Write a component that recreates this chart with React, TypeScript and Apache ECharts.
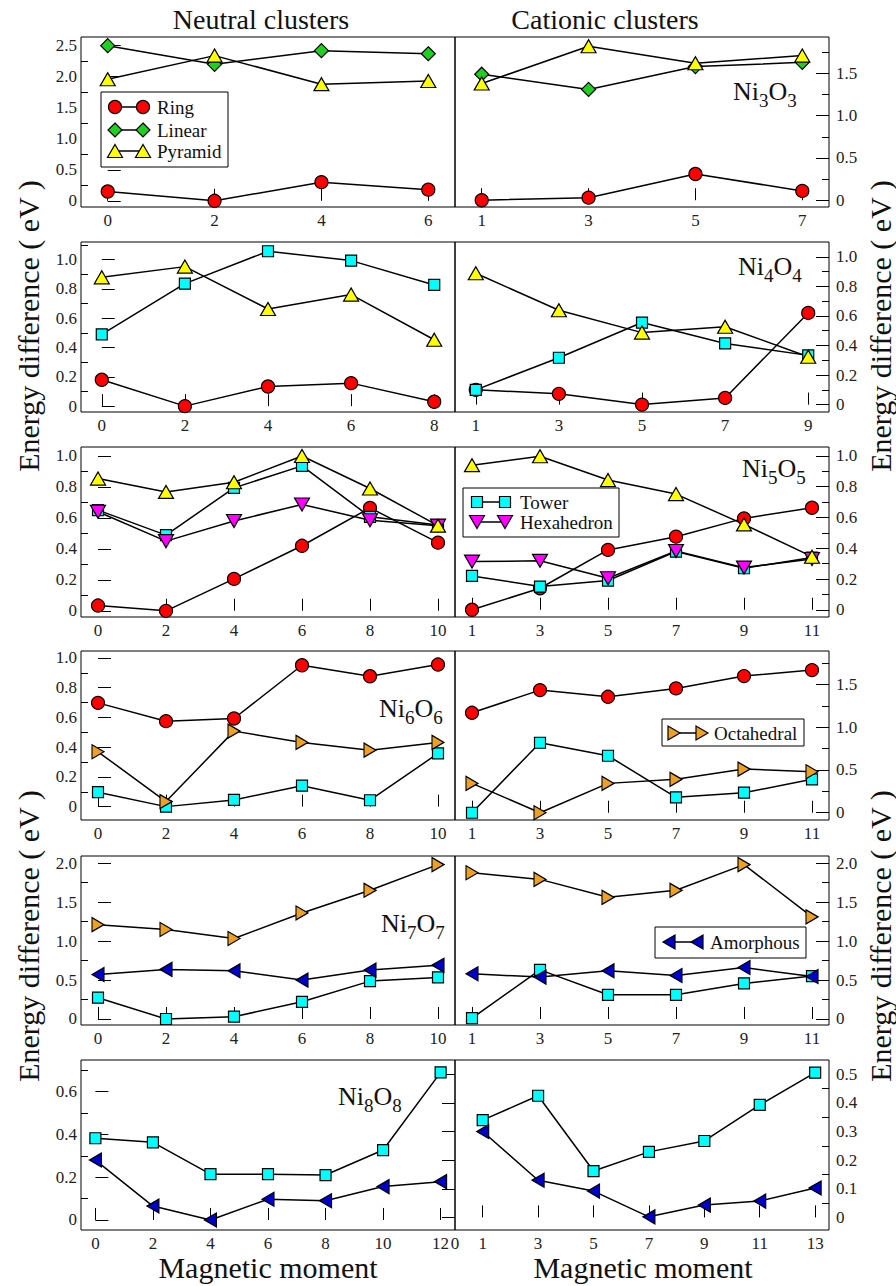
import React, { useEffect, useRef } from "react";
import * as echarts from "echarts";

const FONT = "'Liberation Serif', 'Times New Roman', Times, serif";

// ---------------- x values (magnetic moment) ----------------
const xNeutral6 = [0, 2, 4, 6];
const xCation7 = [1, 3, 5, 7];
const xNeutral8 = [0, 2, 4, 6, 8];
const xCation9 = [1, 3, 5, 7, 9];
const xNeutral10 = [0, 2, 4, 6, 8, 10];
const xCation11 = [1, 3, 5, 7, 9, 11];
const xNeutral12 = [0, 2, 4, 6, 8, 10, 12];
const xCation13 = [1, 3, 5, 7, 9, 11, 13];
const xCation13Labels = [0, 1, 3, 5, 7, 9, 11, 13];

// ---------------- Ni3O3 ----------------
const ni3nRing = [0.15, 0, 0.3, 0.18];
const ni3nLinear = [2.5, 2.2, 2.42, 2.37];
const ni3nPyramid = [1.96, 2.34, 1.88, 1.93];
const ni3cRing = [0, 0.03, 0.31, 0.11];
const ni3cLinear = [1.49, 1.31, 1.58, 1.63];
const ni3cPyramid = [1.38, 1.82, 1.62, 1.71];

// ---------------- Ni4O4 ----------------
const ni4nRing = [0.18, 0, 0.134, 0.157, 0.03];
const ni4nTower = [0.49, 0.836, 1.057, 0.993, 0.827];
const ni4nPyramid = [0.879, 0.952, 0.663, 0.761, 0.453];
const ni4cRing = [0.1, 0.073, 0, 0.045, 0.62];
const ni4cTower = [0.1, 0.317, 0.555, 0.414, 0.333];
const ni4cPyramid = [0.889, 0.638, 0.487, 0.527, 0.324];

// ---------------- Ni5O5 ----------------
const ni5nRing = [0.034, 0, 0.206, 0.42, 0.665, 0.44];
const ni5nTower = [0.65, 0.489, 0.794, 0.936, 0.607, 0.554];
const ni5nHexahedron = [0.64, 0.45, 0.58, 0.687, 0.585, 0.55];
const ni5nPyramid = [0.854, 0.768, 0.83, 1.0, 0.79, 0.55];
const ni5cRing = [0, 0.14, 0.389, 0.475, 0.594, 0.663];
const ni5cTower = [0.22, 0.151, 0.19, 0.378, 0.27, 0.339];
const ni5cHexahedron = [0.313, 0.318, 0.205, 0.382, 0.274, 0.33];
const ni5cPyramid = [0.94, 0.998, 0.843, 0.752, 0.555, 0.345];

// ---------------- Ni6O6 ----------------
const ni6nRing = [0.698, 0.575, 0.593, 0.951, 0.877, 0.956];
const ni6nTower = [0.097, 0, 0.045, 0.141, 0.043, 0.358];
const ni6nOctahedral = [0.369, 0.034, 0.508, 0.432, 0.38, 0.432];
const ni6cRing = [1.168, 1.433, 1.355, 1.453, 1.597, 1.667];
const ni6cTower = [0, 0.818, 0.666, 0.18, 0.234, 0.39];
const ni6cOctahedral = [0.343, 0, 0.343, 0.39, 0.51, 0.479];

// ---------------- Ni7O7 ----------------
const ni7nTower = [0.273, 0, 0.03, 0.22, 0.486, 0.533];
const ni7nOctahedral = [1.21, 1.148, 1.032, 1.36, 1.65, 1.98];
const ni7nAmorphous = [0.571, 0.636, 0.618, 0.499, 0.627, 0.69];
const ni7cTower = [0.01, 0.63, 0.31, 0.31, 0.456, 0.55];
const ni7cOctahedral = [1.875, 1.79, 1.56, 1.65, 1.98, 1.31];
const ni7cAmorphous = [0.58, 0.537, 0.618, 0.558, 0.66, 0.545];

// ---------------- Ni8O8 ----------------
const ni8nTower = [0.382, 0.363, 0.214, 0.214, 0.21, 0.327, 0.69];
const ni8nAmorphous = [0.28, 0.065, 0, 0.097, 0.09, 0.156, 0.179];
const ni8cTower = [0.34, 0.425, 0.162, 0.229, 0.267, 0.393, 0.506];
const ni8cAmorphous = [0.3, 0.13, 0.092, 0.002, 0.043, 0.057, 0.103];

// ---------------- y tick labels ----------------
const yLab25 = [0, 0.5, 1, 1.5, 2, 2.5];
const yMin25 = [0.25, 0.75, 1.25, 1.75, 2.25];
const yLab15 = [0, 0.5, 1, 1.5];
const yMin15 = [0.25, 0.75, 1.25, 1.75];
const yLab10 = [0, 0.2, 0.4, 0.6, 0.8, 1.0];
const yMin10 = [0.1, 0.3, 0.5, 0.7, 0.9];
const yMin11 = [0.1, 0.3, 0.5, 0.7, 0.9, 1.1];
const yLab20 = [0, 0.5, 1, 1.5, 2];
const yMin20 = [0.25, 0.75, 1.25, 1.75];
const yLab06 = [0, 0.2, 0.4, 0.6];
const yMin06 = [0.1, 0.3, 0.5, 0.7];
const yLab05 = [0, 0.1, 0.2, 0.3, 0.4, 0.5];
const yMin05 = [0.05, 0.15, 0.25, 0.35, 0.45];

// ---------------- styles ----------------
type Sty = { symbol: string; size: number | number[]; color: string; rotate: number };
const STYLE: Record<string, Sty> = {
  Ring: { symbol: "circle", size: 13, color: "#ff0000", rotate: 0 },
  Linear: { symbol: "diamond", size: 14, color: "#20d020", rotate: 0 },
  Tower: { symbol: "rect", size: 11, color: "#00ffff", rotate: 0 },
  Hexahedron: { symbol: "triangle", size: [15, 13], color: "#ff00ff", rotate: 180 },
  Pyramid: { symbol: "triangle", size: [15, 13], color: "#ffff00", rotate: 0 },
  Octahedral: { symbol: "triangle", size: [14, 12], color: "#eea020", rotate: -90 },
  Amorphous: { symbol: "triangle", size: [14, 12], color: "#0000cc", rotate: 90 },
};
const ORDER = ["Ring", "Linear", "Tower", "Hexahedron", "Pyramid", "Octahedral", "Amorphous"];

const ROW_TOP = [37, 242, 447, 651, 856, 1060];
const ROW_H = [170, 170, 170, 169, 169, 170];
const COL_LEFT = [81, 455];
const PANEL_W = 374;

type Panel = {
  row: number;
  col: number;
  xs: number[];
  xRange: number[];
  xLabels: number[];
  xTicks: number[];
  yRange: number[];
  yLabels: number[];
  yMinor: number[];
  series: Record<string, number[]>;
};

const panels: Panel[] = [
  { row: 0, col: 0, xs: xNeutral6, xRange: [-0.5, 6.5], xLabels: xNeutral6, xTicks: xNeutral6, yRange: [-0.1, 2.64], yLabels: yLab25, yMinor: yMin25,
    series: { Ring: ni3nRing, Linear: ni3nLinear, Pyramid: ni3nPyramid } },
  { row: 0, col: 1, xs: xCation7, xRange: [0.5, 7.5], xLabels: xCation7, xTicks: xCation7, yRange: [-0.08, 1.93], yLabels: yLab15, yMinor: yMin15,
    series: { Ring: ni3cRing, Linear: ni3cLinear, Pyramid: ni3cPyramid } },
  { row: 1, col: 0, xs: xNeutral8, xRange: [-0.5, 8.5], xLabels: xNeutral8, xTicks: xNeutral8, yRange: [-0.04, 1.12], yLabels: yLab10, yMinor: yMin11,
    series: { Ring: ni4nRing, Tower: ni4nTower, Pyramid: ni4nPyramid } },
  { row: 1, col: 1, xs: xCation9, xRange: [0.5, 9.5], xLabels: xCation9, xTicks: xCation9, yRange: [-0.05, 1.1], yLabels: yLab10, yMinor: yMin10,
    series: { Ring: ni4cRing, Tower: ni4cTower, Pyramid: ni4cPyramid } },
  { row: 2, col: 0, xs: xNeutral10, xRange: [-0.5, 10.5], xLabels: xNeutral10, xTicks: xNeutral10, yRange: [-0.04, 1.058], yLabels: yLab10, yMinor: yMin10,
    series: { Ring: ni5nRing, Tower: ni5nTower, Hexahedron: ni5nHexahedron, Pyramid: ni5nPyramid } },
  { row: 2, col: 1, xs: xCation11, xRange: [0.5, 11.5], xLabels: xCation11, xTicks: xCation11, yRange: [-0.047, 1.058], yLabels: yLab10, yMinor: yMin10,
    series: { Ring: ni5cRing, Tower: ni5cTower, Hexahedron: ni5cHexahedron, Pyramid: ni5cPyramid } },
  { row: 3, col: 0, xs: xNeutral10, xRange: [-0.5, 10.5], xLabels: xNeutral10, xTicks: xNeutral10, yRange: [-0.09, 1.047], yLabels: yLab10, yMinor: yMin10,
    series: { Ring: ni6nRing, Tower: ni6nTower, Octahedral: ni6nOctahedral } },
  { row: 3, col: 1, xs: xCation11, xRange: [0.5, 11.5], xLabels: xCation11, xTicks: xCation11, yRange: [-0.085, 1.89], yLabels: yLab15, yMinor: yMin15,
    series: { Ring: ni6cRing, Tower: ni6cTower, Octahedral: ni6cOctahedral } },
  { row: 4, col: 0, xs: xNeutral10, xRange: [-0.5, 10.5], xLabels: xNeutral10, xTicks: xNeutral10, yRange: [-0.077, 2.09], yLabels: yLab20, yMinor: yMin20,
    series: { Tower: ni7nTower, Octahedral: ni7nOctahedral, Amorphous: ni7nAmorphous } },
  { row: 4, col: 1, xs: xCation11, xRange: [0.5, 11.5], xLabels: xCation11, xTicks: xCation11, yRange: [-0.077, 2.09], yLabels: yLab20, yMinor: yMin20,
    series: { Tower: ni7cTower, Octahedral: ni7cOctahedral, Amorphous: ni7cAmorphous } },
  { row: 5, col: 0, xs: xNeutral12, xRange: [-0.5, 12.5], xLabels: xNeutral12, xTicks: xNeutral12, yRange: [-0.047, 0.748], yLabels: yLab06, yMinor: yMin06,
    series: { Tower: ni8nTower, Amorphous: ni8nAmorphous } },
  { row: 5, col: 1, xs: xCation13, xRange: [0, 13.5], xLabels: xCation13Labels, xTicks: xCation13, yRange: [-0.044, 0.55], yLabels: yLab05, yMinor: yMin05,
    series: { Tower: ni8cTower, Amorphous: ni8cAmorphous } },
];

// ---------------- graphic helpers ----------------
function legendSymbol(name: string, cx: number, cy: number): any {
  const s = STYLE[name];
  const style = { fill: s.color, stroke: "#000", lineWidth: 1.2 };
  if (name === "Ring") return { type: "circle", shape: { cx, cy, r: 6.5 }, style };
  if (name === "Tower") return { type: "rect", shape: { x: cx - 5.5, y: cy - 5.5, width: 11, height: 11 }, style };
  if (name === "Linear")
    return { type: "polygon", shape: { points: [[cx, cy - 7], [cx + 7, cy], [cx, cy + 7], [cx - 7, cy]] }, style };
  if (name === "Pyramid")
    return { type: "polygon", shape: { points: [[cx, cy - 6.5], [cx + 7.5, cy + 6.5], [cx - 7.5, cy + 6.5]] }, style };
  if (name === "Hexahedron")
    return { type: "polygon", shape: { points: [[cx, cy + 6.5], [cx + 7.5, cy - 6.5], [cx - 7.5, cy - 6.5]] }, style };
  if (name === "Octahedral")
    return { type: "polygon", shape: { points: [[cx + 6, cy], [cx - 6, cy - 7], [cx - 6, cy + 7]] }, style };
  return { type: "polygon", shape: { points: [[cx - 6, cy], [cx + 6, cy - 7], [cx + 6, cy + 7]] }, style };
}

const legends = [
  { box: [101, 92, 127, 75], sx: [115, 143], tx: 157, items: [["Ring", 107], ["Linear", 130], ["Pyramid", 151]] },
  { box: [463, 488, 156, 49], sx: [477, 505], tx: 520, items: [["Tower", 502], ["Hexahedron", 522]] },
  { box: [662, 719, 142, 27], sx: [674, 702], tx: 714, items: [["Octahedral", 733]] },
  { box: [655, 927, 151, 31], sx: [669, 697], tx: 710, items: [["Amorphous", 942]] },
];

const clusterLabels = [
  { n: "3", x: 733, base: 100 },
  { n: "4", x: 738, base: 275 },
  { n: "5", x: 742, base: 477 },
  { n: "6", x: 379, base: 717 },
  { n: "7", x: 381, base: 932 },
  { n: "8", x: 338, base: 1105 },
];

function text(str: string, x: number, y: number, size: number, align = "center", rotation = 0): any {
  return {
    type: "text",
    x,
    y,
    rotation,
    z: 100,
    style: { text: str, fontFamily: FONT, fontSize: size, fill: "#111", align, verticalAlign: "middle" },
  };
}

function buildOption(): any {
  const grid: any[] = [];
  const xAxis: any[] = [];
  const yAxis: any[] = [];
  const series: any[] = [];
  const labelStyle = { fontFamily: FONT, fontSize: 17, color: "#222" };

  panels.forEach((p, i) => {
    grid.push({
      left: COL_LEFT[p.col],
      top: ROW_TOP[p.row],
      width: PANEL_W,
      height: ROW_H[p.row],
      show: true,
      borderColor: "#000",
      borderWidth: 1,
      backgroundColor: "rgba(0,0,0,0)",
    });
    xAxis.push({
      type: "value",
      gridIndex: i,
      min: p.xRange[0],
      max: p.xRange[1],
      position: "bottom",
      axisLine: { show: false },
      splitLine: { show: false },
      axisTick: { show: true, inside: true, length: 12, lineStyle: { color: "#000", width: 1 }, customValues: p.xTicks },
      axisLabel: { show: true, customValues: p.xLabels, margin: 5, showMinLabel: true, showMaxLabel: true, ...labelStyle },
    });
    const pos = p.col === 0 ? "left" : "right";
    yAxis.push({
      type: "value",
      gridIndex: i,
      min: p.yRange[0],
      max: p.yRange[1],
      position: pos,
      axisLine: { show: false },
      splitLine: { show: false },
      axisTick: { show: true, inside: true, length: 13, lineStyle: { color: "#000", width: 1 }, customValues: p.yLabels },
      axisLabel: {
        show: true,
        customValues: p.yLabels,
        margin: p.col === 0 ? 4 : 7,
        showMinLabel: true,
        showMaxLabel: true,
        formatter: (v: number) => (Math.abs(v) < 1e-9 ? "0" : Number(v).toFixed(1)),
        ...labelStyle,
      },
    });
    yAxis.push({
      type: "value",
      gridIndex: i,
      min: p.yRange[0],
      max: p.yRange[1],
      position: pos,
      axisLine: { show: false },
      splitLine: { show: false },
      axisTick: { show: true, inside: true, length: 7, lineStyle: { color: "#000", width: 1 }, customValues: p.yMinor },
      axisLabel: { show: false },
    });
    ORDER.forEach((name) => {
      const ys = p.series[name];
      if (!ys) return;
      const s = STYLE[name];
      series.push({
        type: "line",
        name,
        xAxisIndex: i,
        yAxisIndex: 2 * i,
        data: p.xs.map((x, k) => [x, ys[k]]),
        symbol: s.symbol,
        symbolSize: s.size,
        symbolRotate: s.rotate,
        showAllSymbol: true,
        clip: false,
        lineStyle: { color: "#000", width: 1.5 },
        itemStyle: { color: s.color, borderColor: "#000", borderWidth: 1.2 },
        emphasis: { disabled: true },
        silent: true,
      });
    });
  });

  const graphic: any[] = [];
  graphic.push(text("Neutral clusters", 261, 19.5, 28));
  graphic.push(text("Cationic clusters", 605, 19.5, 28));
  graphic.push(text("Magnetic moment", 268, 1267, 30));
  graphic.push(text("Magnetic moment", 643, 1267, 30));
  [326, 936].forEach((cy) => {
    graphic.push(text("Energy difference ( eV )", 28, cy, 30, "center", Math.PI / 2));
    graphic.push(text("Energy difference ( eV )", 880, cy, 30, "center", Math.PI / 2));
  });

  clusterLabels.forEach((c) => {
    const midMain = c.base - 0.3375 * 26;
    const midSub = c.base + 7 - 0.3375 * 19;
    graphic.push(text("Ni", c.x, midMain, 26, "left"));
    graphic.push(text(c.n, c.x + 26, midSub, 19, "left"));
    graphic.push(text("O", c.x + 35.5, midMain, 26, "left"));
    graphic.push(text(c.n, c.x + 54.3, midSub, 19, "left"));
  });

  legends.forEach((lg) => {
    graphic.push({
      type: "rect",
      z: 100,
      shape: { x: lg.box[0], y: lg.box[1], width: lg.box[2], height: lg.box[3] },
      style: { fill: "#fff", stroke: "#000", lineWidth: 1 },
    });
    lg.items.forEach((it) => {
      const name = it[0] as string;
      const y = it[1] as number;
      graphic.push({
        type: "line",
        z: 101,
        shape: { x1: lg.sx[0], y1: y, x2: lg.sx[1], y2: y },
        style: { stroke: "#000", lineWidth: 1.5 },
      });
      const a = legendSymbol(name, lg.sx[0], y);
      const b = legendSymbol(name, lg.sx[1], y);
      a.z = 102;
      b.z = 102;
      graphic.push(a, b);
      const t = text(name, lg.tx, y, 19, "left");
      t.z = 102;
      graphic.push(t);
    });
  });

  return {
    animation: false,
    backgroundColor: "#fff",
    grid,
    xAxis,
    yAxis,
    series,
    graphic: { elements: graphic },
  };
}

export default function App() {
  const ref = useRef<HTMLDivElement>(null);
  useEffect(() => {
    if (!ref.current) return;
    const chart = echarts.init(ref.current, null, { renderer: "svg" });
    chart.setOption(buildOption());
    return () => chart.dispose();
  }, []);
  return (
    <div
      ref={ref}
      style={{ position: "absolute", left: 0, top: 0, width: 896, height: 1286, background: "#fff" }}
    />
  );
}
